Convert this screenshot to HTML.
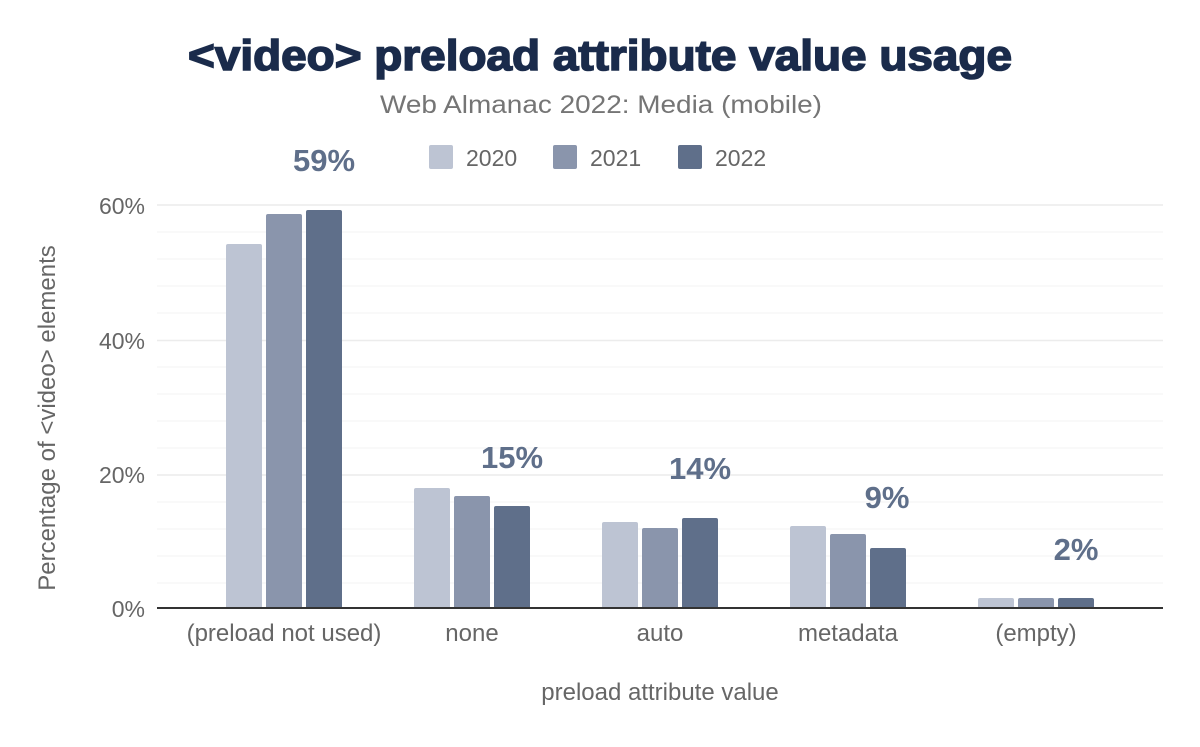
<!DOCTYPE html>
<html><head><style>
body{margin:0;background:#fff;}
svg text{font-family:"Liberation Sans",Arial,sans-serif;}
</style></head><body>
<svg width="1200" height="742" viewBox="0 0 1200 742" xmlns="http://www.w3.org/2000/svg">
<rect width="1200" height="742" fill="#fff"/>
<text x="600" y="70" text-anchor="middle" font-size="43" font-weight="bold" fill="#1a2b4b" stroke="#1a2b4b" stroke-width="1.6" textLength="824" lengthAdjust="spacingAndGlyphs">&lt;video&gt; preload attribute value usage</text>
<text x="601" y="113" text-anchor="middle" font-size="25" fill="#757575" textLength="442" lengthAdjust="spacingAndGlyphs">Web Almanac 2022: Media (mobile)</text>
<rect x="429" y="145" width="24" height="24" rx="2" fill="#bdc4d3"/>
<text x="466" y="166" font-size="23" fill="#666">2020</text>
<rect x="553" y="145" width="24" height="24" rx="2" fill="#8a95ac"/>
<text x="590" y="166" font-size="23" fill="#666">2021</text>
<rect x="678" y="145" width="24" height="24" rx="2" fill="#5f6f8a"/>
<text x="715" y="166" font-size="23" fill="#666">2022</text>
<g stroke="#f3f3f3" stroke-width="1">
<line x1="157" x2="1163" y1="232" y2="232"/><line x1="157" x2="1163" y1="259" y2="259"/><line x1="157" x2="1163" y1="286" y2="286"/><line x1="157" x2="1163" y1="313" y2="313"/>
<line x1="157" x2="1163" y1="367" y2="367"/><line x1="157" x2="1163" y1="394" y2="394"/><line x1="157" x2="1163" y1="421" y2="421"/><line x1="157" x2="1163" y1="448" y2="448"/>
<line x1="157" x2="1163" y1="502" y2="502"/><line x1="157" x2="1163" y1="529" y2="529"/><line x1="157" x2="1163" y1="556" y2="556"/><line x1="157" x2="1163" y1="583" y2="583"/>
</g>
<g stroke="#ececec" stroke-width="1.5">
<line x1="157" x2="1163" y1="205" y2="205"/><line x1="157" x2="1163" y1="340.5" y2="340.5"/><line x1="157" x2="1163" y1="475" y2="475"/>
</g>
<g font-size="23" fill="#666" text-anchor="end">
<text x="145" y="214">60%</text><text x="145" y="349">40%</text><text x="145" y="483">20%</text><text x="145" y="617">0%</text>
</g>
<g>
<path d="M226 608V246q0-2 2-2h32q2 0 2 2V608Z" fill="#bdc4d3"/>
<path d="M266 608V216q0-2 2-2h32q2 0 2 2V608Z" fill="#8a95ac"/>
<path d="M306 608V212q0-2 2-2h32q2 0 2 2V608Z" fill="#5f6f8a"/>
<path d="M414 608V490q0-2 2-2h32q2 0 2 2V608Z" fill="#bdc4d3"/>
<path d="M454 608V498q0-2 2-2h32q2 0 2 2V608Z" fill="#8a95ac"/>
<path d="M494 608V508q0-2 2-2h32q2 0 2 2V608Z" fill="#5f6f8a"/>
<path d="M602 608V524q0-2 2-2h32q2 0 2 2V608Z" fill="#bdc4d3"/>
<path d="M642 608V530q0-2 2-2h32q2 0 2 2V608Z" fill="#8a95ac"/>
<path d="M682 608V520q0-2 2-2h32q2 0 2 2V608Z" fill="#5f6f8a"/>
<path d="M790 608V528q0-2 2-2h32q2 0 2 2V608Z" fill="#bdc4d3"/>
<path d="M830 608V536q0-2 2-2h32q2 0 2 2V608Z" fill="#8a95ac"/>
<path d="M870 608V550q0-2 2-2h32q2 0 2 2V608Z" fill="#5f6f8a"/>
<path d="M978 608V600q0-2 2-2h32q2 0 2 2V608Z" fill="#bdc4d3"/>
<path d="M1018 608V600q0-2 2-2h32q2 0 2 2V608Z" fill="#8a95ac"/>
<path d="M1058 608V600q0-2 2-2h32q2 0 2 2V608Z" fill="#5f6f8a"/>
</g>
<line x1="157" x2="1163" y1="608" y2="608" stroke="#333" stroke-width="2"/>
<g font-size="31" font-weight="bold" fill="#5f6f8a" text-anchor="middle">
<text x="324" y="171">59%</text><text x="512" y="468">15%</text><text x="700" y="479">14%</text><text x="887" y="508">9%</text><text x="1076" y="560">2%</text>
</g>
<g font-size="24" fill="#666" text-anchor="middle">
<text x="284" y="641">(preload not used)</text><text x="472" y="641">none</text><text x="660" y="641">auto</text><text x="848" y="641">metadata</text><text x="1036" y="641">(empty)</text>
<text x="660" y="700">preload attribute value</text>
<text transform="translate(55,418) rotate(-90)">Percentage of &lt;video&gt; elements</text>
</g>
</svg>
</body></html>
